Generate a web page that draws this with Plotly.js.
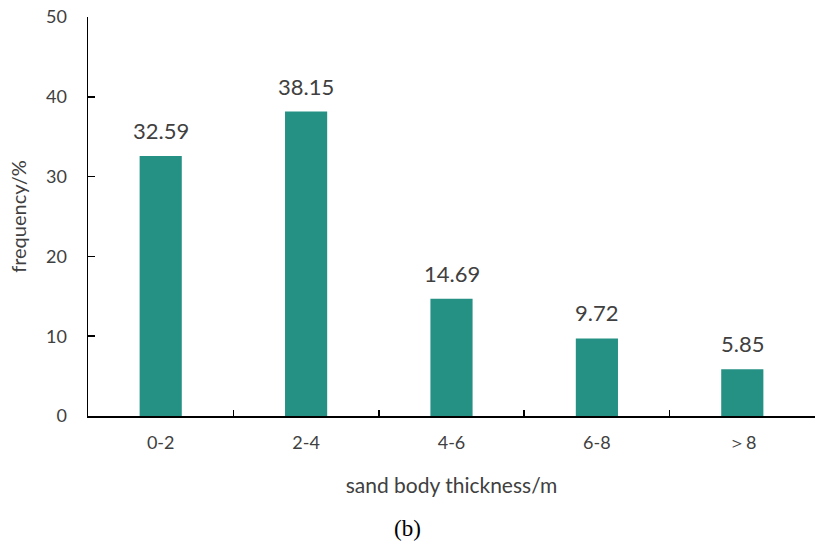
<!DOCTYPE html>
<html>
<head>
<meta charset="utf-8">
<script src="https://cdn.plot.ly/plotly-3.0.1.min.js"></script>
<style>html,body{margin:0;padding:0;background:#fff;}#chart{width:816px;height:544px;}</style>
</head>
<body>
<div id="chart"></div>
<script>
const categories = ["0-2", "2-4", "4-6", "6-8", "＞8"];
const frequency = [32.59, 38.15, 14.69, 9.72, 5.85];
const labels = ["32.59", "38.15", "14.69", "9.72", "5.85"];

const FONT = "Lato, 'Open Sans', sans-serif";
const TXT = "#404040";

const trace = {
  type: "bar",
  x: categories,
  y: frequency,
  marker: {color: "#259185"},
  hoverinfo: "x+y"
};

const annotations = categories.map((c, i) => ({
  x: c, y: frequency[i], xref: "x", yref: "y",
  text: labels[i], showarrow: false, yanchor: "bottom", yshift: 10,
  font: {family: FONT, size: 22, color: TXT}
}));
annotations.push({
  x: 0.44, y: 0, xref: "paper", yref: "paper", yanchor: "middle",
  yshift: -112, text: "(b)", showarrow: false,
  font: {family: "'Liberation Serif', serif", size: 23, color: "#000"}
});

const layout = {
  width: 816, height: 544,
  margin: {l: 88, r: 1, t: 17, b: 128},
  paper_bgcolor: "#fff", plot_bgcolor: "#fff",
  bargap: 0.71,
  showlegend: false,
  xaxis: {
    type: "category",
    tickson: "boundaries",
    ticks: "inside", ticklen: 6, tickwidth: 1.5, tickcolor: "#000",
    showline: true, linecolor: "#000", linewidth: 1.5,
    showgrid: false, zeroline: false,
    tickfont: {family: FONT, size: 18, color: TXT},
    ticklabelstandoff: 10,
    title: {text: "sand body thickness/m", font: {family: FONT, size: 21, color: TXT}, standoff: 26}
  },
  yaxis: {
    range: [0, 50], dtick: 10,
    ticks: "inside", ticklen: 7, tickwidth: 1.5, tickcolor: "#000",
    showline: true, linecolor: "#000", linewidth: 1.5,
    showgrid: false, zeroline: false,
    tickfont: {family: FONT, size: 18, color: TXT},
    ticklabelstandoff: 16,
    title: {text: "frequency/%", font: {family: FONT, size: 20, color: TXT}, standoff: 14}
  },
  annotations: annotations
};

Plotly.newPlot("chart", [trace], layout, {displayModeBar: false, staticPlot: true});
</script>
</body>
</html>
